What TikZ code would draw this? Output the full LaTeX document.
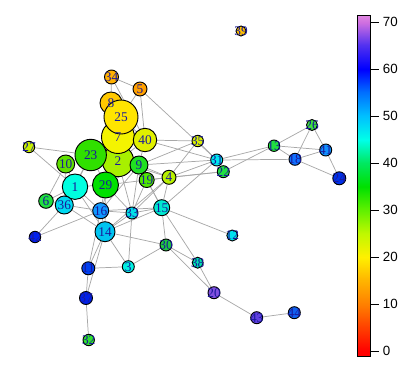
\documentclass[tikz,border=0pt]{standalone}
\usepackage{fontspec}
\setmainfont{Liberation Serif}
\newfontfamily\axisfont{Liberation Sans}
\usetikzlibrary{backgrounds}
\definecolor{lblue}{HTML}{1A1A9A}
\definecolor{egray}{HTML}{A8A8A8}
% node colours
\definecolor{c34}{HTML}{FFB000}
\definecolor{c5}{HTML}{FFA000}
\definecolor{c8}{HTML}{FFC800}
\definecolor{c25}{HTML}{FFE400}
\definecolor{c7}{HTML}{F4F400}
\definecolor{c40}{HTML}{E0F000}
\definecolor{c2}{HTML}{A8F000}
\definecolor{c23}{HTML}{30E000}
\definecolor{c9}{HTML}{20E020}
\definecolor{c10}{HTML}{60E000}
\definecolor{c27}{HTML}{C8F000}
\definecolor{c19}{HTML}{50E800}
\definecolor{c4}{HTML}{B8F000}
\definecolor{c1}{HTML}{00FFE0}
\definecolor{c29}{HTML}{00E000}
\definecolor{c6}{HTML}{20E040}
\definecolor{c36}{HTML}{00D8F0}
\definecolor{c16}{HTML}{1098FF}
\definecolor{c33}{HTML}{00E0E8}
\definecolor{c15}{HTML}{00E8D0}
\definecolor{c14}{HTML}{00C4F0}
\definecolor{c30}{HTML}{20C840}
\definecolor{c3}{HTML}{00F0E0}
\definecolor{c11}{HTML}{0040F0}
\definecolor{cb1}{HTML}{0020E8}
\definecolor{c32}{HTML}{30E030}
\definecolor{cb2}{HTML}{0020F0}
\definecolor{c35}{HTML}{D8F000}
\definecolor{c31}{HTML}{00E8F0}
\definecolor{c22}{HTML}{20E040}
\definecolor{c13}{HTML}{20E040}
\definecolor{c26}{HTML}{40E040}
\definecolor{c18}{HTML}{1070FF}
\definecolor{c41}{HTML}{1090FF}
\definecolor{cb3}{HTML}{0030E8}
\definecolor{c12}{HTML}{00E0F0}
\definecolor{c38}{HTML}{00E0B0}
\definecolor{c20}{HTML}{8050E0}
\definecolor{c43}{HTML}{6040E0}
\definecolor{c44}{HTML}{1060F0}
\definecolor{c39}{HTML}{FFC000}
% colour bar stops
\definecolor{s0}{HTML}{FF0000}
\definecolor{s1}{HTML}{FF4000}
\definecolor{s2}{HTML}{FF8000}
\definecolor{s3}{HTML}{FFB400}
\definecolor{s4}{HTML}{FFF000}
\definecolor{s5}{HTML}{C0F800}
\definecolor{s6}{HTML}{60F000}
\definecolor{s7}{HTML}{00E000}
\definecolor{s8}{HTML}{00E860}
\definecolor{s9}{HTML}{00FFE8}
\definecolor{s10}{HTML}{00C0FF}
\definecolor{s11}{HTML}{0070FF}
\definecolor{s12}{HTML}{0000FF}
\definecolor{s13}{HTML}{5030F0}
\definecolor{s14}{HTML}{D070E0}
\definecolor{s15}{HTML}{E088E0}
\begin{document}
\begin{tikzpicture}[x=0.75pt,y=-0.75pt,
  vtx/.style 2 args={circle, draw=black, line width=0.7pt, inner sep=0pt, minimum size=#1*1.5pt, fill=#2},
  lbl/.style={text=lblue, font=\fontsize{10}{10}\selectfont, inner sep=0pt},
  edge/.style={draw=egray, line width=0.55pt},
  tickmark/.style={draw=black, line width=0.6pt},
  ticklbl/.style={anchor=west, font=\axisfont\fontsize{10}{10}\selectfont, inner sep=0pt, text=black}]
\useasboundingbox (0,0) rectangle (417,365);
% vertices (draw order matters for overlaps)
\node[vtx={7}{c34}] (n34) at (111.5,77) {};
\node[vtx={7}{c5}] (n5) at (140,89) {};
\node[vtx={15.7}{c2}] (n2) at (118,161) {};
\node[vtx={16.5}{c7}] (n7) at (118,137) {};
\node[vtx={11}{c8}] (n8) at (111,103) {};
\node[vtx={17}{c25}] (n25) at (121,117) {};
\node[vtx={11.7}{c40}] (n40) at (145,140) {};
\node[vtx={15.7}{c23}] (n23) at (90.7,155) {};
\node[vtx={9}{c9}] (n9) at (139,165) {};
\node[vtx={9}{c10}] (n10) at (65.7,164) {};
\node[vtx={5.7}{c27}] (n27) at (29,147) {};
\node[vtx={7.5}{c19}] (n19) at (146.7,180) {};
\node[vtx={7}{c4}] (n4) at (169,177.3) {};
\node[vtx={13}{c29}] (n29) at (105.5,185) {};
\node[vtx={12.7}{c1}] (n1) at (75,186.7) {};
\node[vtx={7.3}{c6}] (n6) at (46,201) {};
\node[vtx={9}{c36}] (n36) at (64.3,205) {};
\node[vtx={8}{c16}] (n16) at (100.7,210.7) {};
\node[vtx={6}{c33}] (n33) at (132,213) {};
\node[vtx={8}{c15}] (n15) at (161.7,207.7) {};
\node[vtx={10}{c14}] (n14) at (105,231.7) {};
\node[vtx={6}{c30}] (n30) at (166,245) {};
\node[vtx={6}{c3}] (n3) at (128.3,266.7) {};
\node[vtx={6.5}{c11}] (n11) at (88.3,268.3) {};
\node[vtx={6.5}{cb1}] (nb1) at (86,298) {};
\node[vtx={5.7}{c32}] (n32) at (88.7,340) {};
\node[vtx={5.7}{cb2}] (nb2) at (35,237) {};
\node[vtx={5.7}{c35}] (n35) at (197.7,141) {};
\node[vtx={6}{c31}] (n31) at (216.7,160) {};
\node[vtx={6}{c22}] (n22) at (223.3,171.7) {};
\node[vtx={5.7}{c13}] (n13) at (274,145.7) {};
\node[vtx={5.5}{c26}] (n26) at (312,125) {};
\node[vtx={6}{c41}] (n41) at (325.7,150) {};
\node[vtx={6}{c18}] (n18) at (295,159.3) {};
\node[vtx={6.5}{cb3}] (nb3) at (339.3,178.3) {};
\node[vtx={5.5}{c12}] (n12) at (232.3,235.5) {};
\node[vtx={5.5}{c38}] (n38) at (197.7,262.7) {};
\node[vtx={6}{c20}] (n20) at (214,292.7) {};
\node[vtx={6}{c43}] (n43) at (256.7,317.7) {};
\node[vtx={6}{c44}] (n44) at (294.3,312.7) {};
\node[vtx={5}{c39}] (n39) at (241,31) {};
% edges behind the vertices
\begin{pgfonlayer}{background}
\foreach \a/\b in {n34/n5, n34/n8, n34/n40, n5/n25, n5/n40, n5/n31, n8/n25,
  n25/n7, n25/n40, n7/n2, n7/n23, n7/n40, n2/n23, n2/n9, n2/n29, n2/n40,
  n23/n10, n23/n1, n23/n29, n23/n27, n23/n36, n27/n1, n10/n6, n10/n1, n10/n36,
  n9/n35, n9/n31, n9/n4, n9/n19, n9/n15, n9/n33, n9/n16, n40/n35, n40/n31, n40/n9,
  n2/n19, n2/n4, n2/n16, n2/n33, n19/n4, n19/n15, n19/n33, n19/n22,
  n4/n31, n4/n22, n4/n15, n4/n35, n4/n14, n4/n33,
  n1/n6, n1/n36, n1/n16, n1/n29, n1/n14, n29/n16, n29/n33, n29/n14, n29/n9, n29/n19,
  n6/n36, n36/n16, n36/n14, n16/n14, n16/n33, n16/n15, n33/n15, n33/n14, n33/n3,
  n15/n30, n15/n12, n15/n38, n15/n14, n15/n31, n14/n30, n14/n3, n14/n11, n14/nb1,
  n16/n11, n3/n30, n3/n11, n11/nb1, nb1/n32, nb2/n36, nb2/n16, n30/n38, n30/n20,
  n38/n20, n20/n43, n43/n44, n31/n13, n31/n18, n22/n13, n35/n31,
  n13/n26, n13/n41, n13/n18, n26/n18, n26/n41, n41/n18, n41/nb3, n18/nb3}
  \draw[edge] (\a) -- (\b);
\end{pgfonlayer}
% labels on top
\foreach \n/\t in {n34/34, n5/5, n2/2, n7/7, n8/8, n25/25, n40/40, n23/23, n9/9,
  n10/10, n27/27, n19/19, n4/4, n29/29, n1/1, n6/6, n36/36, n16/16, n33/33,
  n15/15, n14/14, n30/30, n3/3, n11/11, nb1/37, n32/32, nb2/42, n35/35, n31/31,
  n22/22, n13/13, n26/26, n41/41, n18/18, nb3/24, n12/12, n38/38, n20/20,
  n43/43, n44/44, n39/39}
  \node[lbl] (l\n) at (\n) {\t};
% colour bar
\foreach \va/\vb/\ca/\cb in {-1.06/0/s0/s0, 0/5/s0/s1, 5/10/s1/s2, 10/15/s2/s3,
  15/20/s3/s4, 20/25/s4/s5, 25/30/s5/s6, 30/35/s6/s7, 35/40/s7/s8, 40/45/s8/s9,
  45/50/s9/s10, 50/55/s10/s11, 55/60/s11/s12, 60/65/s12/s13, 65/70/s13/s14,
  70/71.5/s14/s15}
  \shade[bottom color=\ca, top color=\cb] (357.3,{351-4.7*\va}) rectangle (370.7,{351-4.7*\vb+0.3});
\node[draw=black, line width=0.6pt, inner sep=0pt, minimum width=13.4*0.75pt,
  minimum height=341*0.75pt] (bar) at (364,185.5) {};
\foreach \v in {0,10,...,70} {
  \coordinate (t\v) at (370.7,{351-4.7*\v});
  \draw[tickmark] (t\v) -- ++(8,0) coordinate (te\v);
  \node[ticklbl] (tl\v) at ([xshift=3pt]te\v) {\v};
}
\end{tikzpicture}
\end{document}
